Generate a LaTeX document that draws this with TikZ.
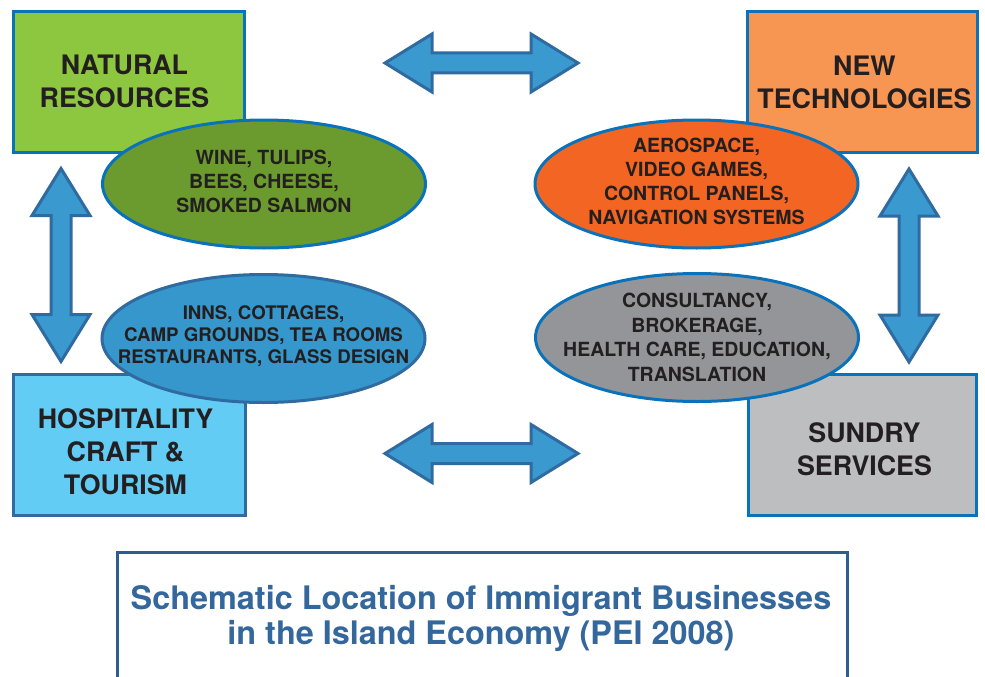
\documentclass[tikz,border=0pt]{standalone}
\usepackage{fontspec}
\setmainfont{TeX Gyre Heros}
\definecolor{natgreen}{HTML}{8DC63F}
\definecolor{natoval}{HTML}{6B9B2F}
\definecolor{techorange}{HTML}{F79553}
\definecolor{techoval}{HTML}{F26522}
\definecolor{hospblue}{HTML}{63CCF5}
\definecolor{hospoval}{HTML}{3597CB}
\definecolor{sungrey}{HTML}{BCBEC0}
\definecolor{sunoval}{HTML}{939598}
\definecolor{edgeblue}{HTML}{0A72BA}
\definecolor{steelblue}{HTML}{2F6AA0}
\definecolor{arrowblue}{HTML}{3A99CF}
\definecolor{inkdark}{HTML}{231F20}
\definecolor{captionblue}{HTML}{34679C}
\tikzset{
  sector/.style={draw=edgeblue,line width=3pt,rectangle,minimum width=231pt,minimum height=141pt,inner sep=0pt},
  sectortext/.style={align=center,text=inkdark,font=\bfseries\fontsize{26.8}{33}\selectfont},
  oval/.style={draw=edgeblue,line width=3pt,ellipse,minimum width=323pt,minimum height=128pt,inner sep=0pt},
  ovaltext/.style={align=center,text=inkdark,font=\bfseries\fontsize{19.5}{24}\selectfont},
  arrowbody/.style={fill=arrowblue,draw=steelblue,line width=3pt,line join=miter},
  pics/blockarrow/.style={code={
    \draw[arrowbody] (-96.5,0) -- (-49.5,-29) -- (-49.5,-10) -- (49.5,-10) -- (49.5,-29) -- (96.5,0)
      -- (49.5,29) -- (49.5,10) -- (-49.5,10) -- (-49.5,29) -- cycle;
  }}
}
\usetikzlibrary{shapes.geometric}
\begin{document}
\begin{tikzpicture}[x=1pt,y=-1pt]
\useasboundingbox (0,0) rectangle (985,677);
% four sectors
\node[sector,fill=natgreen,label={[sectortext,yshift=1pt,xshift=-4.5pt]center:{NATURAL\\RESOURCES}}] (natres) at (129,82) {};
\node[sector,fill=techorange,minimum width=230pt,label={[sectortext,xshift=2pt]center:{NEW\\TECHNOLOGIES}}] (newtech) at (862.5,82) {};
\node[sector,fill=hospblue,draw=steelblue,minimum width=232pt,label={[sectortext,yshift=-7pt,xshift=-4pt]center:{HOSPITALITY\\CRAFT \&\\TOURISM}}] (hosp) at (129.5,445) {};
\node[sector,fill=sungrey,minimum width=228pt,label={[sectortext,yshift=-4pt,xshift=2pt]center:{SUNDRY\\SERVICES}}] (sundry) at (862.5,445) {};
% links
\foreach \ax/\ay/\rot in {481.5/63/0, 481.5/453.5/0, 61/265/90, 909/265.5/90}
  \pic[rotate=\rot] at (\ax,\ay) {blockarrow};
% examples
\node[oval,fill=natoval,label={[ovaltext,yshift=2.5pt]center:{WINE, TULIPS,\\BEES, CHEESE,\\SMOKED SALMON}}] (natex) at (264,184) {};
\node[oval,fill=techoval,label={[ovaltext,yshift=3pt]center:{AEROSPACE,\\VIDEO GAMES,\\CONTROL PANELS,\\NAVIGATION SYSTEMS}}] (techex) at (696.5,184) {};
\node[oval,fill=hospoval,draw=steelblue,label={[ovaltext,yshift=2pt,font=\bfseries\fontsize{18.7}{22}\selectfont]center:{INNS, COTTAGES,\\CAMP GROUNDS, TEA ROOMS\\RESTAURANTS, GLASS DESIGN}}] (hospex) at (263.5,338.5) {};
\node[oval,fill=sunoval,label={[ovaltext,font=\bfseries\fontsize{19.5}{24.5}\selectfont]center:{CONSULTANCY,\\BROKERAGE,\\HEALTH CARE, EDUCATION,\\TRANSLATION}}] (sunex) at (697,337.5) {};
% caption
\draw[captionblue!90!black,line width=3pt] (117,690) |- (847,552) -- (847,690);
\node[align=center,text=captionblue,font=\bfseries\fontsize{32.4}{35}\selectfont] (caption) at (481,618)
  {Schematic Location of Immigrant Businesses\\in the Island Economy (PEI 2008)};
\end{tikzpicture}
\end{document}
